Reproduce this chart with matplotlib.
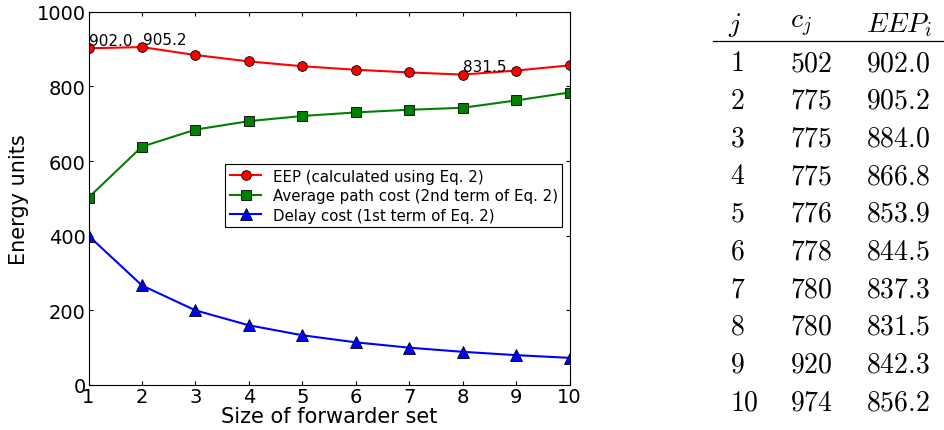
import numpy as np
import matplotlib
matplotlib.use("Agg")
import matplotlib.pyplot as plt

plt.rcParams['mathtext.fontset'] = 'cm'

# forwarder set size
set_size = [1, 2, 3, 4, 5, 6, 7, 8, 9, 10]
# EEP values (also listed in the table)
eep = [902.0, 905.2, 884.0, 866.8, 853.9, 844.5, 837.3, 831.5, 842.3, 856.2]
# average path cost (2nd term)
path_cost = [502.0, 638.5, 684.0, 706.8, 720.6, 730.2, 737.3, 742.6, 762.3, 783.5]
# delay cost (1st term)
delay_cost = [400.0, 266.7, 200.0, 160.0, 133.3, 114.3, 100.0, 88.9, 80.0, 72.7]

# table columns
tab_j = ["1", "2", "3", "4", "5", "6", "7", "8", "9", "10"]
tab_c = ["502", "775", "775", "775", "776", "778", "780", "780", "920", "974"]
tab_eep = ["902.0", "905.2", "884.0", "866.8", "853.9", "844.5", "837.3", "831.5", "842.3", "856.2"]

# points that get their value written next to them
labelled = [0, 1, 7]

W, H = 944, 431
fig = plt.figure(figsize=(W / 100, H / 100), dpi=100)
ax = fig.add_axes([88.5 / W, 45 / H, 481 / W, 373.3 / H])

ax.plot(set_size, eep, color='red', lw=1.5, marker='o', ms=7, mec='black', mew=0.6,
        label='EEP (calculated using Eq. 2)')
ax.plot(set_size, path_cost, color='green', lw=1.5, marker='s', ms=7, mec='black', mew=0.6,
        label='Average path cost (2nd term of Eq. 2)')
ax.plot(set_size, delay_cost, color='blue', lw=1.5, marker='^', ms=8, mec='black', mew=0.6,
        label='Delay cost (1st term of Eq. 2)')

for i in labelled:
    ax.annotate(f"{eep[i]:.1f}", (set_size[i], eep[i]), xytext=(0.5, 2.5), textcoords='offset points',
                ha='left', va='baseline', fontsize=11)

ax.set_xlim(1, 10)
ax.set_ylim(0, 1000)
ax.set_xticks(set_size)
ax.set_yticks([0, 200, 400, 600, 800, 1000])
ax.tick_params(direction='in', top=True, right=True, labelsize=14, length=3, width=0.8)
ax.tick_params(axis='x', pad=1.5)
ax.tick_params(axis='y', pad=1.8)
ax.set_xlabel("Size of forwarder set", fontsize=15, labelpad=0)
ax.set_ylabel("Energy units", fontsize=15, labelpad=6)

leg = ax.legend(loc='upper right', bbox_to_anchor=(0.985, 0.592), fontsize=10.8,
                fancybox=False, framealpha=1, borderaxespad=0, borderpad=0.3,
                labelspacing=0.3, handlelength=2.1, handletextpad=0.75)
leg.get_frame().set_edgecolor('black')
leg.get_frame().set_linewidth(0.8)

# table on the right
fs = 20
row0 = 63
step = 37.7
hy = 1 - 25 / H
fig.text(727.7 / W, hy, "$j$", fontsize=fs, ha='left', va='center')
fig.text(790 / W, hy, "$c_j$", fontsize=fs, ha='left', va='center')
fig.text(865.7 / W, hy, "$EEP_i$", fontsize=fs, ha='left', va='center')
fig.add_artist(plt.Line2D([712.7 / W, 1.0], [1 - 41.7 / H, 1 - 41.7 / H],
                          color='black', lw=0.9))
for k in range(len(tab_j)):
    y = 1 - (row0 + k * step) / H
    fig.text(730 / W, y, f"${tab_j[k]}$", fontsize=fs, ha='left', va='center')
    fig.text(790 / W, y, f"${tab_c[k]}$", fontsize=fs, ha='left', va='center')
    fig.text(865.7 / W, y, f"${tab_eep[k]}$", fontsize=fs, ha='left', va='center')

fig.savefig("out.png", dpi=100)
